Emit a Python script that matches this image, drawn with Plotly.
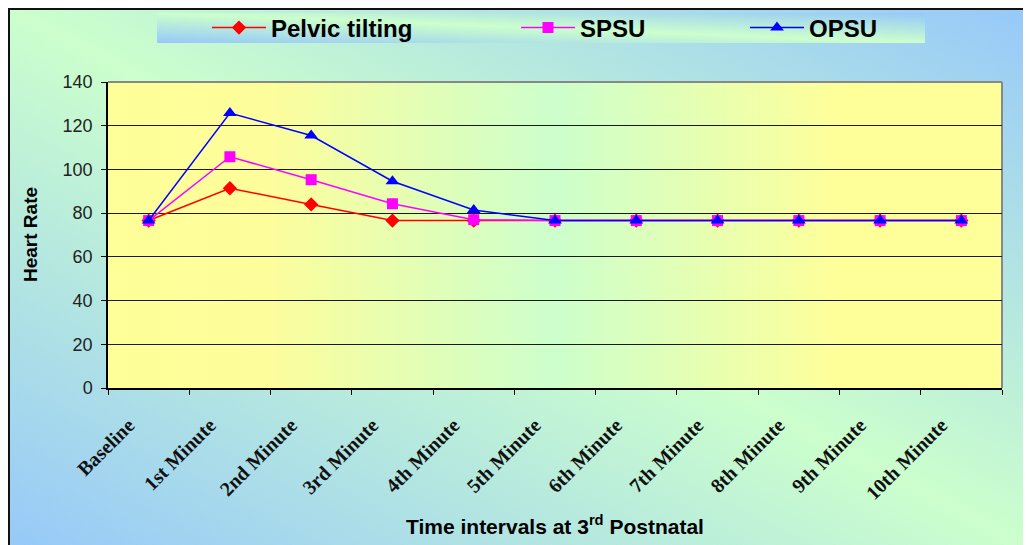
import base64
import plotly.graph_objects as go

categories = ["Baseline", "1st Minute", "2nd Minute", "3rd Minute", "4th Minute", "5th Minute",
              "6th Minute", "7th Minute", "8th Minute", "9th Minute", "10th Minute"]
pelvic_tilting = [76.6, 91.4, 84.0, 76.6, 76.6, 76.6, 76.6, 76.6, 76.6, 76.6, 76.6]
spsu = [76.6, 105.8, 95.3, 84.3, 77.0, 76.6, 76.6, 76.6, 76.6, 76.6, 76.6]
opsu = [76.6, 125.8, 115.5, 94.6, 81.4, 76.6, 76.6, 76.6, 76.6, 76.6, 76.6]
y_ticks = [0, 20, 40, 60, 80, 100, 120, 140]

W, H = 1031, 545
L, R, T, B = 100, 994, 74, 380


def px2x(px):
    return (px - L) / (R - L)


def py2y(py):
    return (B - py) / (B - T)


def svg_uri(stops, x1, y1, x2, y2):
    st = "".join(f'<stop offset="{o}" stop-color="{c}"/>' for o, c in stops)
    svg = ('<svg xmlns="http://www.w3.org/2000/svg" width="100" height="100" viewBox="0 0 100 100" '
           'preserveAspectRatio="none"><defs><linearGradient id="g" x1="%s" y1="%s" x2="%s" y2="%s">%s'
           '</linearGradient></defs><rect width="100" height="100" fill="url(#g)"/></svg>') % (x1, y1, x2, y2, st)
    return "data:image/svg+xml;base64," + base64.b64encode(svg.encode()).decode()


bg_uri = svg_uri([(0, "#96c8fa"), (0.5, "#ccffcc"), (1, "#96c8fa")], 0, 1, 1, 0)
plot_uri = svg_uri([(0, "#ffff99"), (0.18, "#fdfd9b"), (0.5, "#ccffcc"), (0.82, "#ffff99"), (1, "#ffff99")], 0, 0, 1, 0)

SANS = "Liberation Sans"
SERIF = "Liberation Serif"

fig = go.Figure()
series = [
    ("Pelvic tilting", pelvic_tilting, "#ff0000", "diamond", 11, "legend"),
    ("SPSU", spsu, "#ff00ff", "square", 11, "legend2"),
    ("OPSU", opsu, "#0000ff", "triangle-up", 12, "legend3"),
]
for name, vals, col, sym, size, lg in series:
    fig.add_trace(go.Scatter(
        x=categories, y=vals, name=name, mode="lines+markers",
        line=dict(color=col, width=1.5),
        marker=dict(color=col, symbol=sym, size=size, line=dict(width=0)),
        legend=lg,
    ))

leg_common = dict(orientation="h", bgcolor="rgba(0,0,0,0)", borderwidth=0,
                  font=dict(family=SANS, size=24, color="#000000", weight="bold"),
                  xref="container", yref="container", xanchor="left", yanchor="middle",
                  itemwidth=54)
leg_y = 1 - 20 / H

fig.update_layout(
    width=W, height=H,
    margin=dict(l=L, r=W - R, t=T, b=H - B),
    paper_bgcolor="white",
    plot_bgcolor="rgba(0,0,0,0)",
    showlegend=True,
    legend=dict(x=199 / W, y=leg_y, **leg_common),
    legend2=dict(x=508 / W, y=leg_y, **leg_common),
    legend3=dict(x=737 / W, y=leg_y, **leg_common),
    xaxis=dict(
        type="category", range=[-0.5, 10.5], showgrid=False,
        showline=True, linecolor="#000000", linewidth=1.5,
        ticks="outside", tickson="boundaries", ticklen=5, tickcolor="#000000", tickwidth=1,
        tickangle=-45, ticklabelstandoff=16, ticklabelshift=-20,
        tickfont=dict(family=SERIF, size=20, color="#111111", weight="bold"),
    ),
    yaxis=dict(
        range=[0, 140], tickvals=y_ticks, showgrid=True, gridcolor="#1a1a1a", gridwidth=1.3,
        zeroline=False, showline=True, linecolor="#000000", linewidth=1.5,
        ticks="outside", ticklen=5, tickcolor="#000000", tickwidth=1,
        ticklabelstandoff=5,
        tickfont=dict(family=SANS, size=18, color="#222222"),
    ),
    images=[
        dict(source=bg_uri, xref="paper", yref="paper", x=px2x(0), y=py2y(0),
             sizex=W / (R - L), sizey=H / (B - T), xanchor="left", yanchor="top",
             sizing="stretch", layer="below"),
        dict(source=plot_uri, xref="paper", yref="paper", x=0, y=1, sizex=1, sizey=1,
             xanchor="left", yanchor="top", sizing="stretch", layer="below"),
        dict(source=bg_uri, xref="paper", yref="paper", x=px2x(149), y=py2y(5),
             sizex=(917 - 149) / (R - L), sizey=(35 - 5) / (B - T), xanchor="left", yanchor="top",
             sizing="stretch", layer="below"),
    ],
    shapes=[
        dict(type="line", xref="paper", yref="paper", x0=px2x(0), x1=px2x(W), y0=py2y(1), y1=py2y(1),
             line=dict(color="#111111", width=2)),
        dict(type="line", xref="paper", yref="paper", x0=px2x(1), x1=px2x(1), y0=py2y(0), y1=py2y(H),
             line=dict(color="#111111", width=2)),
        dict(type="line", xref="paper", yref="paper", x0=0, x1=1, y0=1, y1=1,
             line=dict(color="#888888", width=2), layer="below"),
        dict(type="line", xref="paper", yref="paper", x0=1, x1=1, y0=0, y1=1,
             line=dict(color="#888888", width=2), layer="below"),
    ],
    annotations=[
        dict(text="Heart Rate", xref="paper", yref="paper", x=px2x(22), y=0.5, textangle=-90,
             showarrow=False, xanchor="center", yanchor="middle",
             font=dict(family=SANS, size=19, color="#000000", weight="bold")),
        dict(text="Time intervals at 3<sup>rd</sup> Postnatal", xref="paper", yref="paper",
             x=px2x(547), y=py2y(517), showarrow=False, xanchor="center", yanchor="middle",
             font=dict(family=SANS, size=21, color="#000000", weight="bold")),
    ],
)

fig.write_html("out.html")
